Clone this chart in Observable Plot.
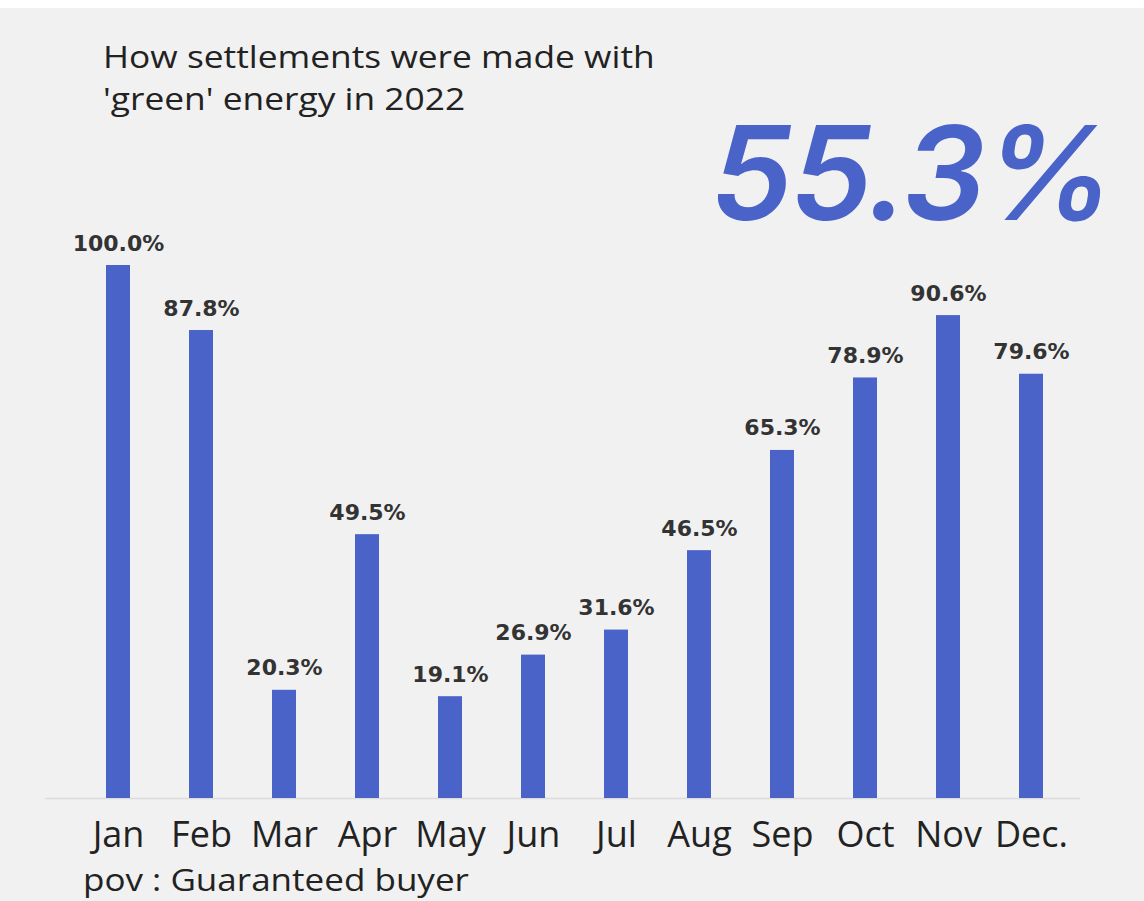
<!DOCTYPE html>
<html><head><meta charset="utf-8">
<script src="https://cdn.jsdelivr.net/npm/d3@7"></script>
<script src="https://cdn.jsdelivr.net/npm/@observablehq/plot@0.6"></script>
<style>
html,body{margin:0;padding:0;background:#f1f1f1;}
#wrap{position:relative;width:1144px;height:901px;overflow:hidden;background:#f1f1f1;}
#topstrip{position:absolute;left:0;top:0;width:1144px;height:8px;background:#fff;}
#title{position:absolute;left:103px;top:35px;font-family:"Open Sans";font-size:31px;line-height:42px;color:#222;white-space:nowrap;transform:scaleX(1.14);transform-origin:0 0;}
#big{position:absolute;left:711px;top:108px;font-family:Inter;font-size:130px;line-height:130px;font-weight:600;font-style:italic;color:#4a63c8;letter-spacing:-2px;white-space:nowrap;}
#chart{position:absolute;left:0;top:230px;}
#foot{position:absolute;left:83px;top:864px;font-family:"Open Sans";font-size:31px;line-height:31px;color:#222;white-space:nowrap;transform:scaleX(1.13);transform-origin:0 0;}
</style>
</head><body>
<div id="wrap">
  <div id="topstrip"></div>
  <div id="title">How settlements were made with<br>'green' energy in 2022</div>
  <div id="big">55.3%</div>
  <div id="chart"></div>
  <div id="foot">pov : Guaranteed buyer</div>
</div>
<script>
const months = ["Jan","Feb","Mar","Apr","May","Jun","Jul","Aug","Sep","Oct","Nov","Dec."];
const values = [100.0, 87.8, 20.3, 49.5, 19.1, 26.9, 31.6, 46.5, 65.3, 78.9, 90.6, 79.6];
const data = months.map((m, i) => ({month: m, value: values[i]}));

const chart = Plot.plot({
  width: 1144,
  height: 630,
  marginLeft: 41,
  marginRight: 36,
  marginTop: 35,
  marginBottom: 62,
  style: {background: "transparent", overflow: "visible"},
  x: {domain: months, padding: 0.714, label: null},
  y: {domain: [0, 100], axis: null},
  marks: [
    Plot.ruleY([0], {stroke: "#dcdcdc", strokeWidth: 1.5, insetLeft: 4, insetRight: 28}),
    Plot.barY(data, {x: "month", y: "value", fill: "#4a63c8"}),
    Plot.text(data, {x: "month", y: "value", text: d => d.value.toFixed(1) + "%",
      lineAnchor: "bottom", dy: -15, fontSize: 22, fontWeight: "bold",
      fontFamily: "DejaVu Sans", fill: "#333"}),
    Plot.axisX({tickSize: 0, tickPadding: 23, fontSize: 36, fontFamily: "Open Sans", fill: "#222", label: null})
  ]
});
document.getElementById("chart").appendChild(chart);
</script>
</body></html>
